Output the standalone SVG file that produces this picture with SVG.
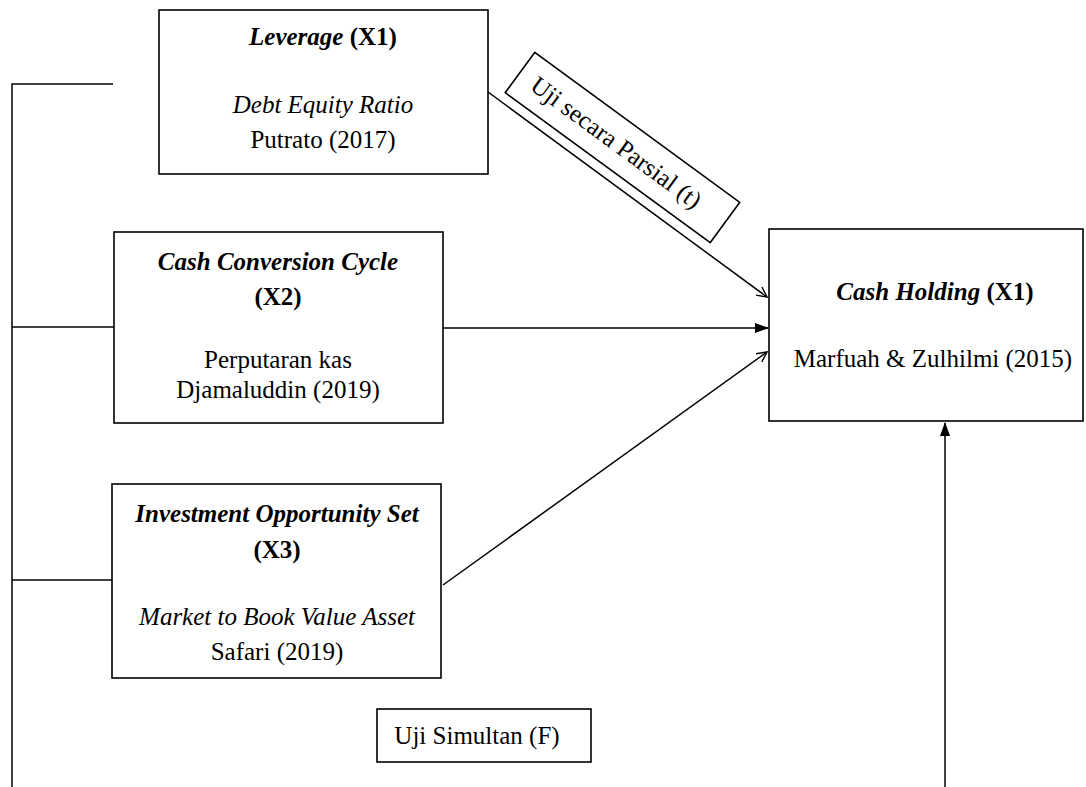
<svg xmlns="http://www.w3.org/2000/svg" width="1086" height="787" viewBox="0 0 1086 787">
<style>
.box{fill:#fff;stroke:#000;stroke-width:1.6}
.ln{fill:none;stroke:#000;stroke-width:1.5}
text{font-family:"Liberation Serif","Times New Roman",serif;font-size:25px;fill:#000;text-anchor:middle}
.bi{font-weight:bold;font-style:italic}
.b{font-weight:bold}
.i{font-style:italic}
</style>
<defs>
<marker id="open" viewBox="0 0 12 12" refX="11" refY="6" markerWidth="12" markerHeight="12" markerUnits="userSpaceOnUse" orient="auto">
<path d="M1,1 L11,6 L1,11" fill="none" stroke="#000" stroke-width="1.4"/>
</marker>
<marker id="fill" viewBox="0 0 14 12" refX="13" refY="6" markerWidth="14" markerHeight="12" markerUnits="userSpaceOnUse" orient="auto">
<path d="M0,1 L14,6 L0,11 Z" fill="#000"/>
</marker>
</defs>
<rect width="1086" height="787" fill="#fff"/>
<g id="connectors">
<path class="ln" d="M113,84 H12 V787"/>
<path class="ln" d="M12,327 H114"/>
<path class="ln" d="M12,580 H112"/>
<line class="ln" x1="488" y1="92" x2="767" y2="297" marker-end="url(#open)"/>
<line class="ln" x1="443" y1="328" x2="768" y2="328" marker-end="url(#fill)"/>
<line class="ln" x1="443" y1="585" x2="767" y2="352" marker-end="url(#open)"/>
<line class="ln" x1="945" y1="787" x2="945" y2="423" marker-end="url(#fill)"/>
</g>
<g id="leverage">
<rect class="box" x="159" y="10" width="329" height="164"/>
<text x="323" y="45"><tspan class="bi">Leverage</tspan><tspan class="b"> (X1)</tspan></text>
<text x="323" y="113" class="i">Debt Equity Ratio</text>
<text x="323" y="148">Putrato (2017)</text>
</g>
<g id="ccc">
<rect class="box" x="114" y="232" width="329" height="191"/>
<text x="278" y="270" class="bi">Cash Conversion Cycle</text>
<text x="278" y="305" class="b">(X2)</text>
<text x="278" y="368">Perputaran kas</text>
<text x="278" y="398">Djamaluddin (2019)</text>
</g>
<g id="ios">
<rect class="box" x="112" y="484" width="329" height="194"/>
<text x="277" y="522" class="bi">Investment Opportunity Set</text>
<text x="277" y="558" class="b">(X3)</text>
<text x="277" y="625" class="i">Market to Book Value Asset</text>
<text x="277" y="660">Safari (2019)</text>
</g>
<g id="cashholding">
<rect class="box" x="769" y="229" width="314" height="192"/>
<text x="935" y="300"><tspan class="bi">Cash Holding</tspan><tspan class="b"> (X1)</tspan></text>
<text x="933" y="367">Marfuah &amp; Zulhilmi (2015)</text>
</g>
<g id="parsial">
<g transform="translate(622.5,147.5) rotate(36.2)">
<rect class="box" x="-127" y="-25" width="254" height="50"/>
<text x="-8" y="8" font-size="22">Uji secara Parsial (t)</text>
</g>
</g>
<g id="simultan">
<rect class="box" x="377" y="709" width="214" height="53"/>
<text x="477" y="744" font-size="23">Uji Simultan (F)</text>
</g>
</svg>
